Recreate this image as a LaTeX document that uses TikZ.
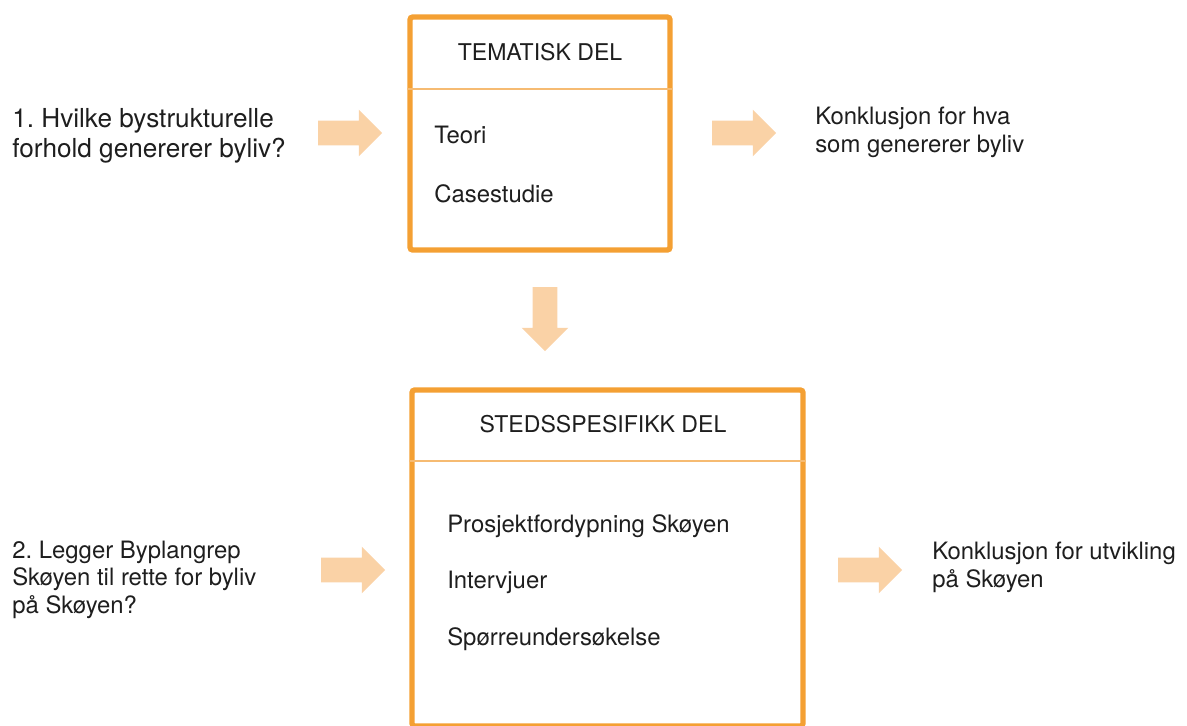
\documentclass[tikz,border=0pt]{standalone}
\usepackage{fontspec}
\setmainfont{TeX Gyre Heros}
\frenchspacing
\usetikzlibrary{positioning, shapes.arrows}
\definecolor{boxorange}{HTML}{F4A033}
\definecolor{lineorange}{HTML}{F6BB72}
\definecolor{arrowpeach}{HTML}{FAD2A6}
\definecolor{textgray}{HTML}{1E1E1E}
\tikzset{part/.style={draw=boxorange,line width=3.8pt,rounded corners=2pt,inner sep=0pt},
  divider/.style={draw=lineorange,line width=1.4pt},
  blockarrow/.style={single arrow,fill=arrowpeach,draw=none,inner xsep=0pt,inner ysep=0.3cm,minimum height=1.6cm,minimum width=1.15cm,single arrow head extend=0.275cm,single arrow head indent=0pt},
  downarrow/.style={blockarrow,shape border rotate=270,inner xsep=0.3cm,inner ysep=0pt},
  txt/.style={anchor=base west,inner sep=0pt,text=textgray,align=left,font=\fontsize{17}{19.3}\selectfont\frenchspacing},
  head/.style={txt,anchor=base,font=\fontsize{16.4}{19.2}\selectfont},
  bigtxt/.style={txt,font=\fontsize{18.6}{21.3}\selectfont\frenchspacing}}

\begin{document}
\begin{tikzpicture}[x=0.025cm,y=-0.025cm]
	\useasboundingbox (0,0) rectangle (1187,725);
	% the two parts
	\node[part, minimum width=6.5cm, minimum height=5.825cm] (tema) at (540,133.5) {};
	\node[part, minimum width=9.775cm, minimum height=8.4cm] (sted) at (607.5,558) {};
	\coordinate (d1) at (0,89);
	\coordinate (d2) at (0,461);
	\draw[divider] (tema.west |- d1) -- (tema.east |- d1);
	\draw[divider] (sted.west |- d2) -- (sted.east |- d2);
	% headings and contents
	\node[head] (temahead) at (540,60) {TEMATISK DEL};
	\node[txt] (teori) at (434,143) {Teori};
	\node[txt] (case) at (434,202) {Casestudie};
	\node[head] (stedhead) at (603,432) {STEDSSPESIFIKK DEL};
	\node[txt] (prosj) at (447,532) {Prosjektfordypning Skøyen};
	\node[txt] (interv) at (447,588) {Intervjuer};
	\node[txt] (sporre) at (447,645) {Spørreundersøkelse};
	% questions and conclusions (base = last line)
	\node[bigtxt] (q1) at (12,157) {1. Hvilke bystrukturelle\\ forhold genererer byliv?};
	\node[txt] (k1) at (815,152) {Konklusjon for hva\\ som genererer byliv};
	\node[txt] (q2) at (12,613) {2. Legger Byplangrep\\ Skøyen til rette for byliv\\ på Skøyen?};
	\node[txt] (k2) at (932,587) {Konklusjon for utvikling\\ på Skøyen};
	% block arrows
	\node[blockarrow] (a1) at (344,133) {};
	\node[blockarrow] (a2) at (738,133) {};
	\node[downarrow] (a3) at (545,313) {};
	\node[blockarrow] (a4) at (347,570) {};
	\node[blockarrow] (a5) at (864,570) {};
\end{tikzpicture}
\end{document}
